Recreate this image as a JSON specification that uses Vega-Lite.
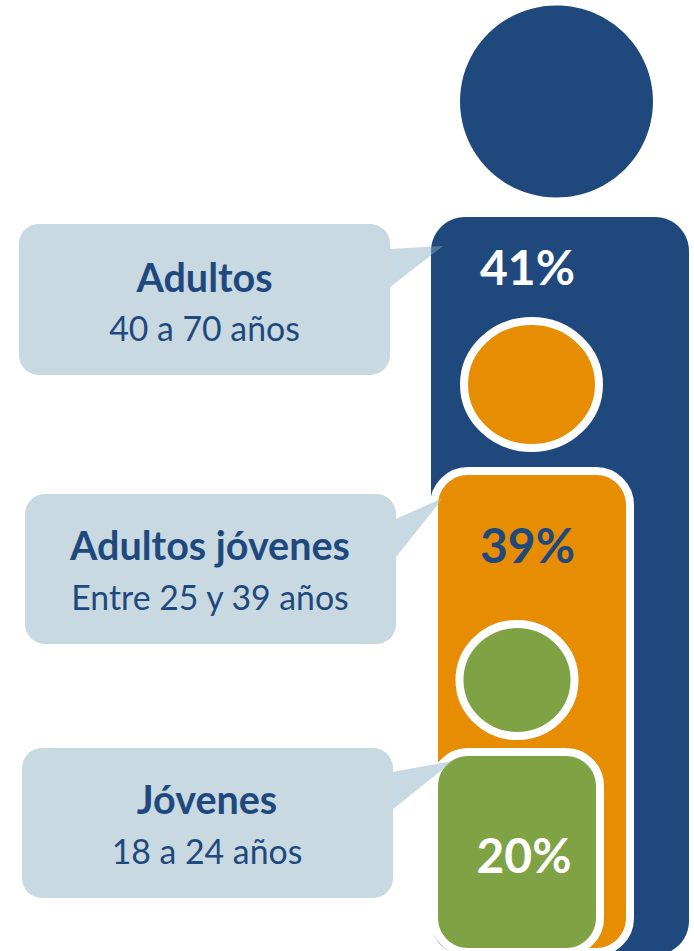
{"$schema":"https://vega.github.io/schema/vega-lite/v6.json","width":694,"height":951,"padding":0,"autosize":"none","background":"white","config":{"view":{"stroke":null}},
"datasets":{
"cuerpos":[{"grupo":"Adultos","x0":431,"x1":689,"y0":217,"y1":955},{"grupo":"Adultos jóvenes","x0":434,"x1":630,"y0":471,"y1":952},{"grupo":"Jóvenes","x0":434,"x1":600,"y0":752,"y1":952}],
"rellenos":[{"grupo":"Adultos jóvenes","x0":438,"x1":626,"y0":475,"y1":948},{"grupo":"Jóvenes","x0":438,"x1":596,"y0":756,"y1":948}],
"cajas":[{"grupo":"Adultos","x0":19,"x1":390,"y0":224,"y1":375},{"grupo":"Adultos jóvenes","x0":25,"x1":396,"y0":494,"y1":644},{"grupo":"Jóvenes","x0":22,"x1":393,"y0":748,"y1":898}],
"colas":[{"grupo":"Adultos","x":390,"y":249,"y2":287},{"grupo":"Adultos","x":443,"y":246,"y2":246},{"grupo":"Adultos jóvenes","x":396,"y":519,"y2":557},{"grupo":"Adultos jóvenes","x":443,"y":498,"y2":498},{"grupo":"Jóvenes","x":393,"y":772,"y2":809},{"grupo":"Jóvenes","x":453,"y":761,"y2":761}],
"titulos":[{"x":204.5,"y":280,"label":"Adultos"},{"x":210,"y":548,"label":"Adultos jóvenes"},{"x":207,"y":802,"label":"Jóvenes"}],
"subtitulos":[{"x":204.5,"y":331,"label":"40 a 70 años"},{"x":210,"y":600,"label":"Entre 25 y 39 años"},{"x":207,"y":854,"label":"18 a 24 años"}],
"porcentajes":[{"x":527.5,"y":271,"label":"41%"},{"x":527.5,"y":549,"label":"39%"},{"x":524,"y":859,"label":"20%"}]
},
"layer":[
{"data":{"values":[{"x":556.5,"y":101.5,"s":36864}]},"mark":{"type":"point","filled":true,"opacity":1,"fill":"#1F497D","shape":"M-1.005,0A1.005,1 0 1,1 1.005,0A1.005,1 0 1,1 -1.005,0Z"},"encoding":{"x":{"field":"x","type":"quantitative","scale":{"domain":[0,694],"nice":false,"zero":false},"axis":null},"y":{"field":"y","type":"quantitative","scale":{"domain":[951,0],"nice":false,"zero":false},"axis":null},"size":{"field":"s","type":"quantitative","scale":null}}},
{"data":{"name":"cajas"},"mark":{"type":"rect","cornerRadius":20,"fill":"#C8D9E2"},"encoding":{"x":{"field":"x0","type":"quantitative","axis":null},"x2":{"field":"x1"},"y":{"field":"y0","type":"quantitative","axis":null},"y2":{"field":"y1"}}},
{"data":{"name":"colas"},"transform":[{"filter":"datum.grupo==='Adultos'"}],"mark":{"type":"area","fill":"#C8D9E2","opacity":1},"encoding":{"x":{"field":"x","type":"quantitative","axis":null},"y":{"field":"y","type":"quantitative","axis":null},"y2":{"field":"y2"},"detail":{"field":"grupo"}}},
{"data":{"name":"cuerpos"},"transform":[{"filter":"datum.grupo==='Adultos'"}],"mark":{"type":"rect","cornerRadius":34,"fill":"#1F497D"},"encoding":{"x":{"field":"x0","type":"quantitative","axis":null},"x2":{"field":"x1"},"y":{"field":"y0","type":"quantitative","axis":null},"y2":{"field":"y1"}}},
{"data":{"values":[{"x":531.5,"y":384.5,"s":16129}]},"mark":{"type":"point","filled":true,"opacity":1,"fill":"#E78D04","stroke":"white","strokeWidth":8,"shape":"M-1.063,0A1.063,1 0 1,1 1.063,0A1.063,1 0 1,1 -1.063,0Z"},"encoding":{"x":{"field":"x","type":"quantitative","axis":null},"y":{"field":"y","type":"quantitative","axis":null},"size":{"field":"s","type":"quantitative","scale":null}}},
{"data":{"name":"cuerpos"},"transform":[{"filter":"datum.grupo==='Adultos jóvenes'"}],"mark":{"type":"rect","cornerRadius":34,"fill":"white","stroke":"white","strokeWidth":8},"encoding":{"x":{"field":"x0","type":"quantitative","axis":null},"x2":{"field":"x1"},"y":{"field":"y0","type":"quantitative","axis":null},"y2":{"field":"y1"}}},
{"data":{"name":"colas"},"transform":[{"filter":"datum.grupo==='Adultos jóvenes'"}],"mark":{"type":"area","fill":"#C8D9E2","opacity":1},"encoding":{"x":{"field":"x","type":"quantitative","axis":null},"y":{"field":"y","type":"quantitative","axis":null},"y2":{"field":"y2"},"detail":{"field":"grupo"}}},
{"data":{"name":"rellenos"},"transform":[{"filter":"datum.grupo==='Adultos jóvenes'"}],"mark":{"type":"rect","cornerRadius":30,"fill":"#E78D04"},"encoding":{"x":{"field":"x0","type":"quantitative","axis":null},"x2":{"field":"x1"},"y":{"field":"y0","type":"quantitative","axis":null},"y2":{"field":"y1"}}},
{"data":{"values":[{"x":517,"y":680,"s":12544}]},"mark":{"type":"point","filled":true,"opacity":1,"fill":"#7FA344","stroke":"white","strokeWidth":8,"shape":"M-1.027,0A1.027,1 0 1,1 1.027,0A1.027,1 0 1,1 -1.027,0Z"},"encoding":{"x":{"field":"x","type":"quantitative","axis":null},"y":{"field":"y","type":"quantitative","axis":null},"size":{"field":"s","type":"quantitative","scale":null}}},
{"data":{"name":"cuerpos"},"transform":[{"filter":"datum.grupo==='Jóvenes'"}],"mark":{"type":"rect","cornerRadius":34,"fill":"white","stroke":"white","strokeWidth":8},"encoding":{"x":{"field":"x0","type":"quantitative","axis":null},"x2":{"field":"x1"},"y":{"field":"y0","type":"quantitative","axis":null},"y2":{"field":"y1"}}},
{"data":{"name":"colas"},"transform":[{"filter":"datum.grupo==='Jóvenes'"}],"mark":{"type":"area","fill":"#C8D9E2","opacity":1},"encoding":{"x":{"field":"x","type":"quantitative","axis":null},"y":{"field":"y","type":"quantitative","axis":null},"y2":{"field":"y2"},"detail":{"field":"grupo"}}},
{"data":{"name":"rellenos"},"transform":[{"filter":"datum.grupo==='Jóvenes'"}],"mark":{"type":"rect","cornerRadius":30,"fill":"#7FA344"},"encoding":{"x":{"field":"x0","type":"quantitative","axis":null},"x2":{"field":"x1"},"y":{"field":"y0","type":"quantitative","axis":null},"y2":{"field":"y1"}}},
{"data":{"name":"colas"},"mark":{"type":"area","fill":"#C8D9E2","opacity":0.3},"encoding":{"x":{"field":"x","type":"quantitative","axis":null},"y":{"field":"y","type":"quantitative","axis":null},"y2":{"field":"y2"},"detail":{"field":"grupo"}}},
{"data":{"name":"titulos"},"mark":{"type":"text","font":"Lato","fontWeight":"bold","fontSize":39.5,"fill":"#1F497D","baseline":"middle"},"encoding":{"x":{"field":"x","type":"quantitative","axis":null},"y":{"field":"y","type":"quantitative","axis":null},"text":{"field":"label"}}},
{"data":{"name":"subtitulos"},"mark":{"type":"text","font":"Lato","fontSize":33.8,"fill":"#1F497D","baseline":"middle"},"encoding":{"x":{"field":"x","type":"quantitative","axis":null},"y":{"field":"y","type":"quantitative","axis":null},"text":{"field":"label"}}},
{"data":{"name":"porcentajes"},"mark":{"type":"text","font":"Lato","fontWeight":"bold","fontSize":48,"baseline":"middle"},"encoding":{"x":{"field":"x","type":"quantitative","axis":null},"y":{"field":"y","type":"quantitative","axis":null},"text":{"field":"label"},"color":{"condition":{"test":"datum.label==='39%'","value":"#1F497D"},"value":"white"}}}
]}
